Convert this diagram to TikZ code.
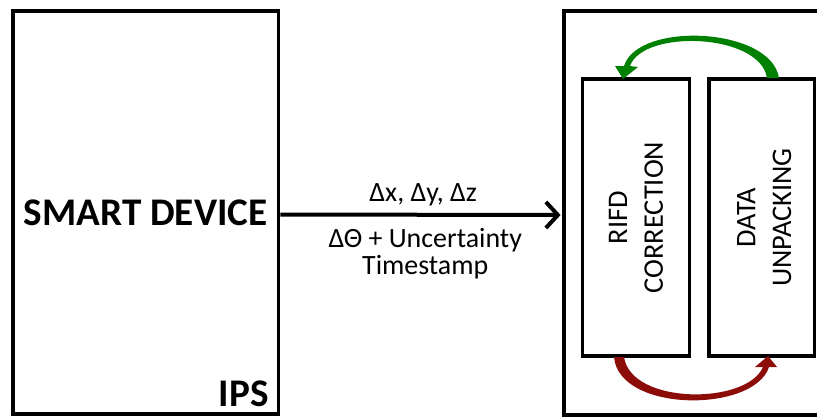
\documentclass[tikz,border=0pt]{standalone}
\usepackage{fontspec}
\setmainfont{Carlito}
\usetikzlibrary{arrows.meta}
\definecolor{loopgreen}{RGB}{0,128,0}
\definecolor{loopred}{RGB}{140,12,8}
\begin{document}
\begin{tikzpicture}[x=1bp,y=-1bp,
  box/.style={draw,rectangle,line width=3.8bp,inner sep=0pt},
  subbox/.style={draw,rectangle,line width=3.5bp,inner sep=0pt,
    minimum height=277bp},
  bigfont/.style={font=\bfseries\fontsize{39.3}{46}\selectfont},
  midfont/.style={font=\fontsize{28}{28}\selectfont},
  vertlabel/.style={rotate=90,align=center,inner sep=0pt,
    font=\fontsize{28.5}{36}\selectfont},
  flowlabel/.style={anchor=base,inner sep=0pt,midfont}]
\useasboundingbox (0,0) rectangle (817,417);
\clip (0,0) rectangle (817,417);

% smart device block
\node[box,bigfont,minimum width=265.5bp,minimum height=403bp] (sd)
  at (145.75,212.5) {SMART DEVICE};
\node[anchor=base east,inner sep=0pt,bigfont] (ips)
  at ([xshift=-11.5bp,yshift=9bp]sd.south east) {IPS};

% receiving block with its two stages
\node[box,minimum width=340bp,minimum height=404bp] (rx) at (734,213) {};
\node[subbox,minimum width=107bp] (rc) at (636,217.5) {};
\node[subbox,minimum width=105.5bp] (du) at (761.75,217.5) {};
\node[vertlabel] (rcl) at (rc.center) {RIFD\\CORRECTION};
\node[vertlabel] (dul) at ([xshift=2.5bp]du.center) {DATA\\UNPACKING};

% data flow
\draw[line width=4bp,shorten >=1.5bp,-{Straight Barb[length=12bp,width=26bp]}]
  ([yshift=-2bp]sd.east) -- ([yshift=-2bp]rx.west)
  node[flowlabel,pos=0.5,xshift=2bp,yshift=13.5bp] (l1) {Δx, Δy, Δz}
  node[flowlabel,pos=0.5,xshift=4bp,yshift=-33.2bp] (l2) {ΔΘ + Uncertainty}
  node[flowlabel,pos=0.5,xshift=4bp,yshift=-59.8bp] (l3) {Timestamp};

% feedback loop: unpacking back to correction (top)
\fill[loopgreen]
  (767,78) -- (779,78)
  .. controls (771,27) and (638,21) .. (624,66)
  -- (615,66) -- (623,79) -- (638,67) -- (630,66)
  .. controls (643,29) and (760,33) .. (767,78) -- cycle;

% forward loop: correction to unpacking (bottom)
\fill[loopred]
  (614,357) -- (624,357)
  .. controls (631,405) and (747,405) .. (763,367)
  -- (755,367) -- (768,356) -- (777,367) -- (769,367)
  .. controls (754,413) and (619,413) .. (614,357) -- cycle;
\end{tikzpicture}
\end{document}
